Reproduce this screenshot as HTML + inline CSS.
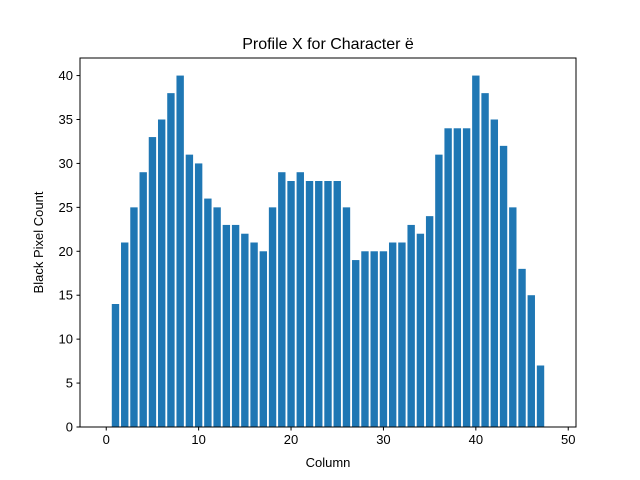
<!DOCTYPE html>
<html><head><meta charset="utf-8"><style>
body{margin:0;background:#fff;}
svg{display:block;font-family:"Liberation Sans","DejaVu Sans",sans-serif;}
</style></head><body>
<svg id="chart" width="640" height="480">
<rect x="0" y="0" width="640" height="480" fill="#fff"/>
<text x="328" y="49" font-size="16" text-anchor="middle">Profile X for Character ë</text>
<g id="bars"></g>
<g id="axes"></g>
<text x="328" y="467" font-size="13" text-anchor="middle">Column</text>
<text transform="translate(43,242.5) rotate(-90)" font-size="13" text-anchor="middle">Black Pixel Count</text>
</svg>
<script>
const columns = [0,1,2,3,4,5,6,7,8,9,10,11,12,13,14,15,16,17,18,19,20,21,22,23,24,25,26,27,28,29,30,31,32,33,34,35,36,37,38,39,40,41,42,43,44,45,46,47,48];
const counts = [0,14,21,25,29,33,35,38,40,31,30,26,25,23,23,22,21,20,25,29,28,29,28,28,28,28,25,19,20,20,20,21,21,23,22,24,31,34,34,34,40,38,35,32,25,18,15,7,0];
const xTicks = [0,10,20,30,40,50];
const yTicks = [0,5,10,15,20,25,30,35,40];

const L=80,R=576,T=58,B=427;
const xmin=-2.84,xmax=50.84,ymin=0,ymax=42;
const xs=v=>L+(v-xmin)/(xmax-xmin)*(R-L);
const ys=v=>B-(v-ymin)/(ymax-ymin)*(B-T);
const NS="http://www.w3.org/2000/svg";
const bars=document.getElementById('bars'), axes=document.getElementById('axes');
function mk(tag,attrs,parent){const e=document.createElementNS(NS,tag);for(const k in attrs)e.setAttribute(k,attrs[k]);parent.appendChild(e);return e;}
columns.forEach((c,i)=>{
  if(counts[i]<=0) return;
  const x0=xs(c-0.4),x1=xs(c+0.4),y0=ys(counts[i]);
  const r=mk('rect',{x:x0,y:y0,width:x1-x0,height:B-y0,fill:'#1f77b4'},bars);
  
  
});
const frame=mk('rect',{x:L,y:T,width:R-L,height:B-T,fill:'none',stroke:'#000','stroke-width':1},axes);


xTicks.forEach(t=>{
  const x=xs(t);
  mk('line',{x1:x,x2:x,y1:B,y2:B+3.5,stroke:'#000'},axes);
  const tx=mk('text',{x:x,y:B+17,'font-size':13,'text-anchor':'middle'},axes);
  tx.textContent=t;
  
  
});
yTicks.forEach(t=>{
  const y=ys(t);
  mk('line',{x1:L-3.5,x2:L,y1:y,y2:y,stroke:'#000'},axes);
  const tx=mk('text',{x:L-7,y:y+4.5,'font-size':13,'text-anchor':'end'},axes);
  tx.textContent=t;
  
  
});
</script>
</body></html>
